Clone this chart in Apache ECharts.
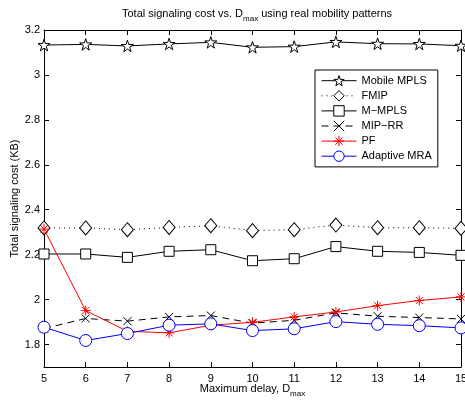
<!DOCTYPE html>
<html><head><meta charset="utf-8">
<script src="https://cdn.jsdelivr.net/npm/echarts@6/dist/echarts.min.js"></script>
<style>html,body{margin:0;padding:0;background:#fff}#c{width:465px;height:401px}</style>
</head><body><div id="c"></div>
<script>
const xValues = [5, 6, 7, 8, 9, 10, 11, 12, 13, 14, 15];
const mobileMPLS = [3.133, 3.136, 3.129, 3.138, 3.145, 3.123, 3.126, 3.147, 3.139, 3.138, 3.130];
const fmip = [2.319, 2.319, 2.311, 2.321, 2.329, 2.307, 2.311, 2.332, 2.320, 2.320, 2.317];
const mMPLS = [2.203, 2.203, 2.188, 2.215, 2.222, 2.173, 2.182, 2.236, 2.215, 2.210, 2.197];
const mipRR = [1.871, 1.916, 1.904, 1.923, 1.929, 1.895, 1.908, 1.941, 1.926, 1.920, 1.914];
const pf = [2.314, 1.951, 1.859, 1.852, 1.886, 1.899, 1.923, 1.945, 1.973, 1.996, 2.012];
const adaptiveMRA = [1.877, 1.818, 1.849, 1.886, 1.892, 1.862, 1.870, 1.902, 1.890, 1.884, 1.874];
const seriesNames = ['Mobile MPLS', 'FMIP', 'M\u2212MPLS', 'MIP\u2212RR', 'PF', 'Adaptive MRA'];

const FONT = '"Liberation Sans", Arial, Helvetica, sans-serif';
const pairs = arr => xValues.map((x, i) => [x, arr[i]]);
const starPath = 'path://M50,2 L61,37 L98,37 L68,59 L79,95 L50,73 L21,95 L32,59 L2,37 L39,37 Z';
const asteriskPath = 'path://M50,0 L50,100 M0,50 L100,50 M15,15 L85,85 M85,15 L15,85';
const crossPath = 'path://M0,0 L100,100 M100,0 L0,100';

const chart = echarts.init(document.getElementById('c'), null, {renderer: 'canvas'});

const axisCommon = {
  axisLine: {show: true, onZero: false, lineStyle: {color: '#000', width: 1}},
  axisTick: {show: true, inside: true, length: 5, lineStyle: {color: '#000'}},
  splitLine: {show: false},
  axisLabel: {color: '#000', fontSize: 11, fontFamily: FONT}
};

function mk(name, arr, extra) {
  return Object.assign({
    name: name, type: 'line', data: pairs(arr), showAllSymbol: true,
    symbolKeepAspect: true, animation: false, z: 3
  }, extra);
}

chart.setOption({
  animation: false,
  backgroundColor: '#fff',
  title: {
    text: '{a|Total signaling cost vs. D}{b|max}{a| using real mobility patterns}',
    left: 117, top: 3,
    textStyle: {
      fontWeight: 'normal',
      rich: {
        a: {fontSize: 11, color: '#000', fontFamily: FONT, fontWeight: 'normal', lineHeight: 14, verticalAlign: 'top'},
        b: {fontSize: 8, color: '#000', fontFamily: FONT, fontWeight: 'normal', padding: [7, 0, 0, 0], verticalAlign: 'top'}
      }
    }
  },
  grid: {left: 44, right: 4, top: 30, bottom: 34, containLabel: false, outerBoundsMode: 'none'},
  legend: {
    orient: 'vertical', left: 315, top: 70,
    backgroundColor: '#fff', borderColor: '#000', borderWidth: 1,
    padding: [5, 6, 5, 6], itemWidth: 35, itemHeight: 13, itemGap: 3.7,
    textStyle: {fontSize: 11, color: '#000', fontFamily: FONT},
    lineStyle: {width: 1},
    itemStyle: {borderWidth: 1},
    data: seriesNames
  },
  xAxis: [
    Object.assign({}, axisCommon, {
      type: 'value', min: 5, max: 15, interval: 1, position: 'bottom',
      name: '{a|Maximum delay, D}{b|max}', nameLocation: 'middle', nameGap: 16,
      nameMoveOverlap: false,
      nameTextStyle: {rich: {
        a: {fontSize: 11, color: '#000', fontFamily: FONT, lineHeight: 14, verticalAlign: 'top'},
        b: {fontSize: 8, color: '#000', fontFamily: FONT, padding: [7, 0, 0, 0], verticalAlign: 'top'}
      }},
      axisLabel: {color: '#000', fontSize: 11, fontFamily: FONT, margin: 6}
    }),
    Object.assign({}, axisCommon, {
      type: 'value', min: 5, max: 15, interval: 1, position: 'top',
      axisLabel: {show: false}
    })
  ],
  yAxis: [
    Object.assign({}, axisCommon, {
      type: 'value', min: 1.7, max: 3.2, splitNumber: 7, position: 'left',
      name: 'Total signaling cost (KB)', nameLocation: 'middle', nameGap: 24,
      nameMoveOverlap: false,
      nameTextStyle: {fontSize: 11, color: '#000', fontFamily: FONT},
      axisLabel: {color: '#000', fontSize: 11, fontFamily: FONT, margin: 4, showMinLabel: false}
    }),
    Object.assign({}, axisCommon, {
      type: 'value', min: 1.7, max: 3.2, splitNumber: 7, position: 'right',
      axisLabel: {show: false}
    })
  ],
  series: [
    mk(seriesNames[0], mobileMPLS, {
      symbol: starPath, symbolSize: 12,
      lineStyle: {color: '#000', width: 1},
      itemStyle: {color: '#fff', borderColor: '#000', borderWidth: 1}
    }),
    mk(seriesNames[1], fmip, {
      symbol: 'diamond', symbolSize: [12, 14],
      lineStyle: {color: '#000', width: 1, type: [1, 4]},
      itemStyle: {color: '#fff', borderColor: '#000', borderWidth: 1}
    }),
    mk(seriesNames[2], mMPLS, {
      symbol: 'rect', symbolSize: 10,
      lineStyle: {color: '#000', width: 1},
      itemStyle: {color: '#fff', borderColor: '#000', borderWidth: 1}
    }),
    mk(seriesNames[3], mipRR, {
      symbol: crossPath, symbolSize: 8,
      lineStyle: {color: '#000', width: 1, type: [7, 5]},
      itemStyle: {color: '#000', borderColor: '#000', borderWidth: 1}
    }),
    mk(seriesNames[4], pf, {
      symbol: asteriskPath, symbolSize: 10,
      lineStyle: {color: '#ff0000', width: 1},
      itemStyle: {color: '#ff0000', borderColor: '#ff0000', borderWidth: 1}
    }),
    mk(seriesNames[5], adaptiveMRA, {
      symbol: 'circle', symbolSize: 12,
      lineStyle: {color: '#0000ff', width: 1},
      itemStyle: {color: '#fff', borderColor: '#0000ff', borderWidth: 1}
    })
  ]
});
</script>
</body></html>
